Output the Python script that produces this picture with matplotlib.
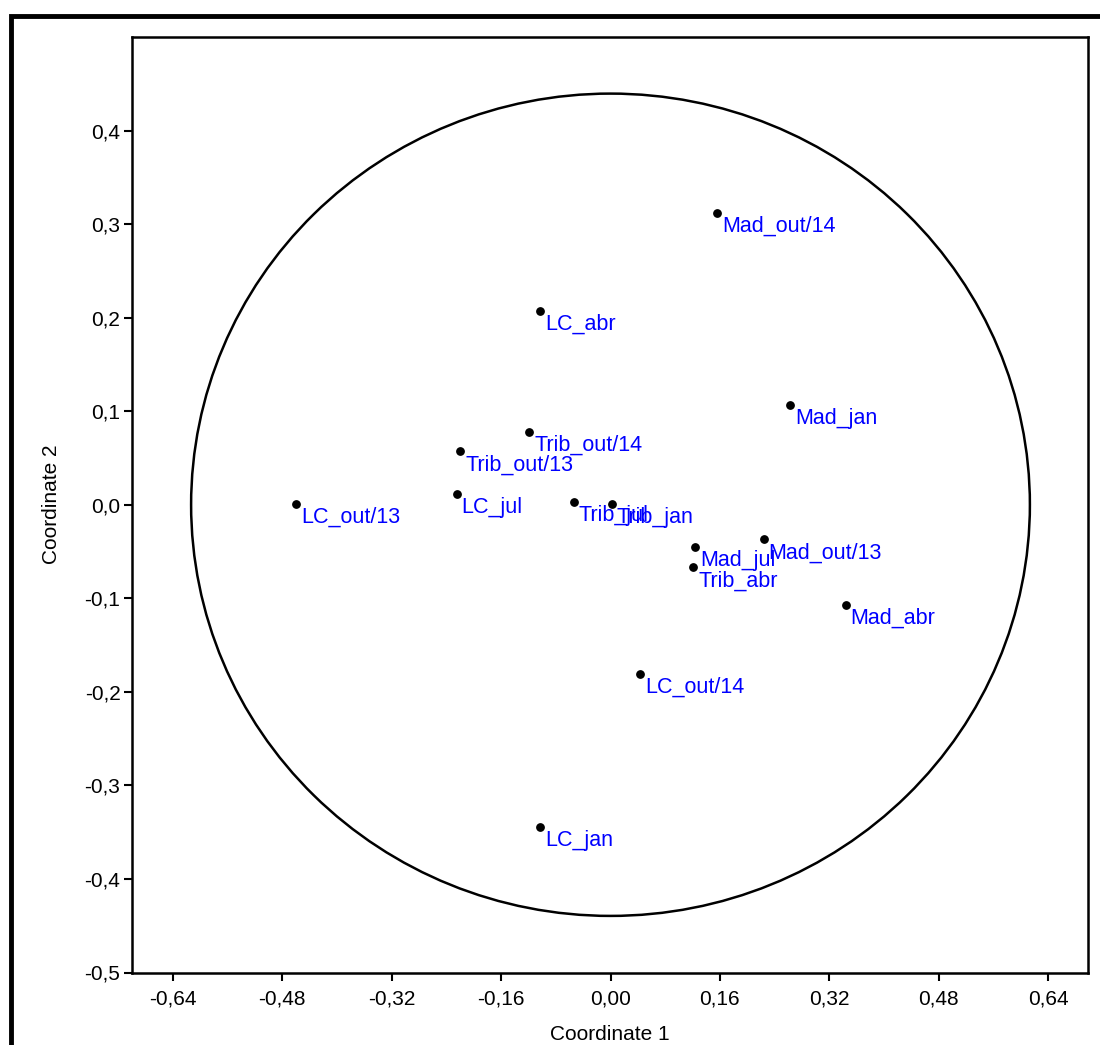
import matplotlib.pyplot as plt
from matplotlib.patches import Ellipse, Rectangle
import numpy as np

plt.rcParams['font.family'] = ['Liberation Sans', 'DejaVu Sans']

# pontos (coordenadas)
labels = ["Mad_out/14", "LC_abr", "Mad_jan", "Trib_out/14", "Trib_out/13",
          "LC_out/13", "LC_jul", "Trib_jul", "Trib_jan", "Mad_jul",
          "Trib_abr", "Mad_out/13", "Mad_abr", "LC_out/14", "LC_jan"]
coord1 = [0.156, -0.103, 0.263, -0.119, -0.220,
          -0.460, -0.225, -0.054, 0.002, 0.124,
          0.121, 0.224, 0.344, 0.043, -0.103]
coord2 = [0.312, 0.207, 0.107, 0.078, 0.057,
          0.001, 0.011, 0.003, 0.001, -0.045,
          -0.067, -0.037, -0.107, -0.181, -0.345]

xticks = [-0.64, -0.48, -0.32, -0.16, 0.0, 0.16, 0.32, 0.48, 0.64]
yticks = [-0.5, -0.4, -0.3, -0.2, -0.1, 0.0, 0.1, 0.2, 0.3, 0.4]

fig = plt.figure(figsize=(11, 10.45), dpi=100)
ax = fig.add_axes([131.5/1100, 1 - 972.5/1045, (1088-131.5)/1100, (972.5-37)/1045])

# moldura externa
fig.patches.append(Rectangle((11/1100, -0.1), 1.2, 1 - 15.5/1045 + 0.1,
                             transform=fig.transFigure, fill=False,
                             edgecolor='black', linewidth=3.5))

ax.add_patch(Ellipse((0.0, 0.0), 1.227, 0.879, fill=False,
                     edgecolor='black', linewidth=1.8))

ax.scatter(coord1, coord2, s=28, color='black', zorder=3)
for lab, x, y in zip(labels, coord1, coord2):
    ax.annotate(lab, (x, y), xytext=(5, -3), textcoords='offset pixels',
                ha='left', va='top', color='#0000ff', fontsize=15.5)

ax.set_xlim(-0.7007, 0.6985)
ax.set_ylim(-0.5, 0.5)
ax.set_xticks(xticks)
ax.set_yticks(yticks)
ax.set_xticklabels([f"{v:.2f}".replace('.', ',') for v in xticks])
ax.set_yticklabels([f"{v:.1f}".replace('.', ',') for v in yticks])
ax.tick_params(direction='out', length=6, width=1.5, labelsize=15, pad=6)
ax.tick_params(axis='y', pad=2)
for s in ax.spines.values():
    s.set_linewidth(1.8)

ax.set_xlabel("Coordinate 1", fontsize=15, labelpad=12)
ax.set_ylabel("Coordinate 2", fontsize=15, labelpad=17)

fig.savefig("out.png", dpi=100)
